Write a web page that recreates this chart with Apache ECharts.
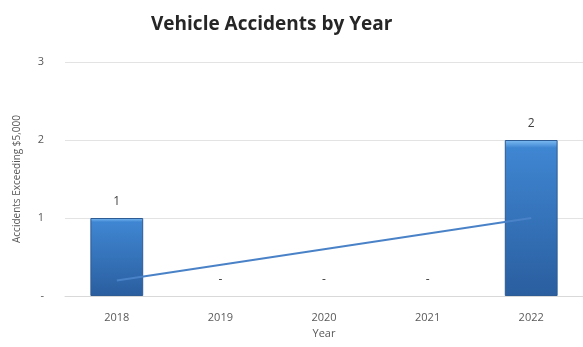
<!DOCTYPE html>
<html>
<head>
<meta charset="utf-8">
<script src="https://cdn.jsdelivr.net/npm/echarts@6/dist/echarts.min.js"></script>
<style>
  html, body { margin: 0; padding: 0; background: #fff; }
  #chart { width: 583px; height: 347px; }
</style>
</head>
<body>
<div id="chart"></div>
<script>
// Accidents with damages over $5,000, per year
const years = ['2018', '2019', '2020', '2021', '2022'];
const accidents = [1, 0, 0, 0, 2];
// Linear trendline endpoints (first and last year)
const trend = [0.2, null, null, null, 1.0];
const yTicks = [0, 1, 2, 3];

const fontFamily = '"Open Sans", "Liberation Sans", sans-serif';
const chart = echarts.init(document.getElementById('chart'), null, { renderer: 'canvas' });

const barFill = new echarts.graphic.LinearGradient(0, 0, 0, 1, [
  { offset: 0, color: '#7fbcf0' },
  { offset: 0.025, color: '#5fa2e4' },
  { offset: 0.05, color: '#3f86d2' },
  { offset: 1, color: '#2a5e9f' }
]);

// Empty years get no outline so nothing is drawn on the baseline
const barData = accidents.map(v => ({
  value: v,
  itemStyle: v === 0 ? { borderWidth: 0, opacity: 0 } : {}
}));

chart.setOption({
  animation: false,
  title: {
    text: 'Vehicle Accidents by Year',
    left: 146,
    top: 10,
    textStyle: { fontFamily, fontSize: 19, fontWeight: 'bold', color: '#262626' }
  },
  grid: { left: 65, right: 0, top: 62, bottom: 51 },
  xAxis: {
    type: 'category',
    data: years,
    name: 'Year',
    nameLocation: 'middle',
    nameGap: 27,
    nameTextStyle: { fontFamily, fontSize: 11, color: '#595959' },
    axisLine: { show: true, lineStyle: { color: '#d9d9d9', width: 1 } },
    axisTick: { show: false },
    axisLabel: { fontFamily, fontSize: 11, color: '#595959', margin: 16 }
  },
  yAxis: {
    type: 'value',
    min: yTicks[0],
    max: yTicks[yTicks.length - 1],
    interval: 1,
    name: 'Accidents Exceeding $5,000',
    nameLocation: 'middle',
    nameGap: 43,
    nameTextStyle: { fontFamily, fontSize: 10, color: '#595959' },
    axisLine: { show: false },
    axisTick: { show: false },
    splitLine: { lineStyle: { color: '#e3e3e3', width: 1 } },
    axisLabel: {
      fontFamily, fontSize: 11, color: '#595959', margin: 21,
      formatter: v => (v === 0 ? '-' : String(v))
    }
  },
  series: [
    {
      type: 'bar',
      data: barData,
      barWidth: '51%',
      itemStyle: { color: barFill, borderColor: '#2d5b93', borderWidth: 1 },
      label: {
        show: true,
        position: 'top',
        distance: 10,
        fontFamily,
        fontSize: 12,
        color: '#404040',
        opacity: 1,
        formatter: p => (p.value === 0 ? '-' : String(p.value))
      },
      z: 2
    },
    {
      type: 'line',
      data: trend,
      connectNulls: true,
      symbol: 'none',
      lineStyle: { color: '#4a82c8', width: 2 },
      z: 3
    }
  ]
});
</script>
</body>
</html>
